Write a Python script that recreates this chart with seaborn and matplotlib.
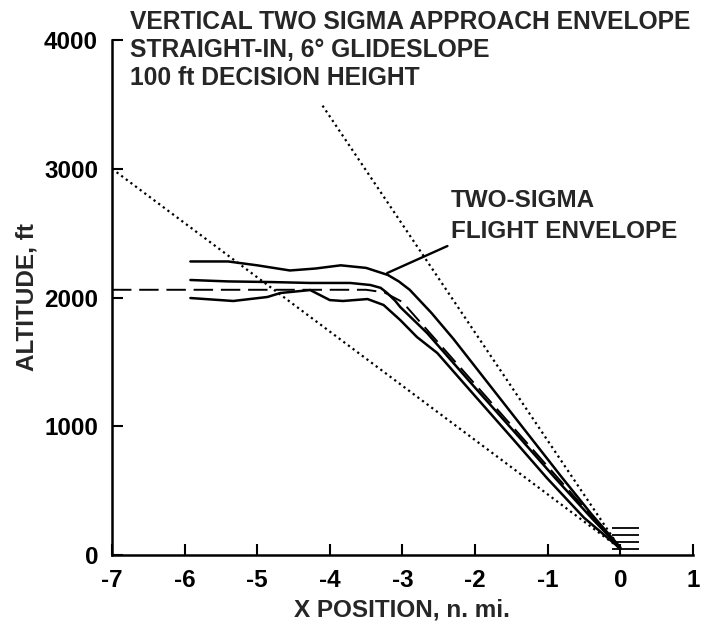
import matplotlib
matplotlib.use('Agg')
import matplotlib.pyplot as plt
import seaborn as sns
import pandas as pd

# ---- data (x in n. mi., altitude in ft) ----
upper_x = [-5.92, -5.4, -5.0, -4.55, -4.2, -3.85, -3.5, -3.2, -3.05, -2.9, -2.6, -2.3, -1.8, -1.3, -0.8, -0.4, 0.0]
upper_y = [2280, 2280, 2250, 2210, 2225, 2250, 2230, 2175, 2125, 2060, 1880, 1680, 1320, 960, 600, 320, 60]

mean_x = [-5.92, -5.4, -4.8, -4.27, -3.72, -3.44, -3.3, -3.21, -3.1, -3.03, -2.66, -2.0, -1.4, -0.9, -0.4, 0.0]
mean_y = [2136, 2125, 2120, 2113, 2113, 2097, 2075, 2035, 1975, 1926, 1724, 1300, 920, 600, 290, 55]

lower_x = [-5.92, -5.33, -4.86, -4.68, -4.27, -4.0, -3.82, -3.48, -3.26, -3.03, -2.8, -2.52, -2.0, -1.5, -1.01, -0.5, 0.0]
lower_y = [1996, 1973, 2004, 2035, 2058, 1980, 1973, 1988, 1942, 1825, 1693, 1569, 1235, 915, 598, 290, 50]

nominal_x = [-7.0, -3.5, -3.25, -3.0, 0.0]
nominal_y = [2060, 2060, 2040, 1965, 50]

bound_lo_x = [-7.0, 0.0]
bound_lo_y = [3000, 50]
bound_hi_x = [-4.1, 0.0]
bound_hi_y = [3490, 50]

dh_marks = [210, 155, 100, 50]

x_ticks = [-7, -6, -5, -4, -3, -2, -1, 0, 1]
y_ticks = [0, 1000, 2000, 3000, 4000]

# ---- style ----
sns.set_theme(style="ticks")
plt.rcParams['font.family'] = ['Liberation Sans', 'DejaVu Sans']
plt.rcParams['font.weight'] = 'bold'
plt.rcParams['axes.unicode_minus'] = False

fig = plt.figure(figsize=(7.02, 6.27), dpi=100)
ax = fig.add_axes([0.1595, 0.1148, 0.8275, 0.8214])

# envelope curves
for xs, ys in [(upper_x, upper_y), (mean_x, mean_y), (lower_x, lower_y)]:
    sns.lineplot(x=xs, y=ys, sort=False, color='black', linewidth=1.8, ax=ax)

# nominal path
sns.lineplot(x=nominal_x, y=nominal_y, sort=False, color='black', linewidth=1.4,
             linestyle=(0, (10, 4)), ax=ax)

# dotted approach bounds
for xs, ys in [(bound_lo_x, bound_lo_y), (bound_hi_x, bound_hi_y)]:
    sns.lineplot(x=xs, y=ys, sort=False, color='black', linewidth=1.6,
                 linestyle=(0, (1, 1.6)), ax=ax)

# decision height marks
ax.hlines(dh_marks, -0.12, 0.26, color='black', linewidth=1.3)

# leader for the envelope label
ax.plot([-3.21, -2.38], [2190, 2400], color='black', linewidth=1.7)
ax.text(-2.33, 2750, 'TWO-SIGMA', fontsize=17.5, fontweight='bold', va='center')
ax.text(-2.33, 2515, 'FLIGHT ENVELOPE', fontsize=17.5, fontweight='bold', va='center')

fig.text(0.185, 0.965, 'VERTICAL TWO SIGMA APPROACH ENVELOPE', fontsize=17.7, fontweight='bold', va='center')
fig.text(0.185, 0.920, 'STRAIGHT-IN, 6° GLIDESLOPE', fontsize=17.7, fontweight='bold', va='center')
fig.text(0.185, 0.876, '100 ft DECISION HEIGHT', fontsize=17.7, fontweight='bold', va='center')

ax.set_xlim(-7, 1)
ax.set_ylim(0, 4000)
ax.set_xticks(x_ticks)
ax.set_xticklabels([str(v) for v in x_ticks])
ax.set_yticks(y_ticks)
ax.set_yticklabels([str(v) for v in y_ticks])
ax.tick_params(direction='in', length=8, width=1.5, labelsize=17.5, pad=10, colors='black')

ax.set_xlabel('X POSITION, n. mi.', fontsize=17.5, fontweight='bold', labelpad=5)
ax.set_ylabel('ALTITUDE, ft', fontsize=17.5, fontweight='bold', labelpad=4)

sns.despine(ax=ax)
for side in ['left', 'bottom']:
    ax.spines[side].set_linewidth(1.8)
    ax.spines[side].set_color('black')

fig.savefig('out.png', dpi=100)
